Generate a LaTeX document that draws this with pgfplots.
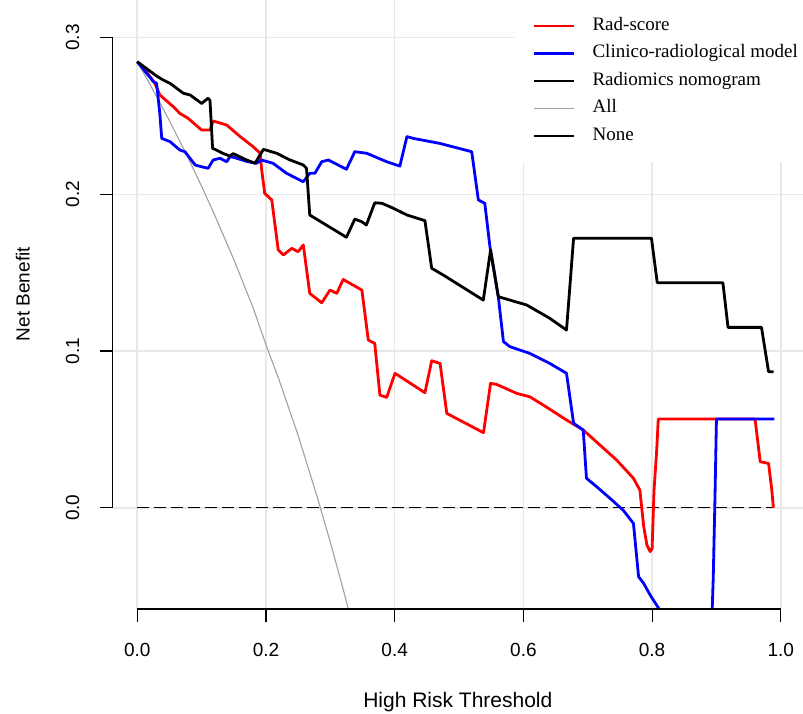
\documentclass[border=0pt]{standalone}
\usepackage{fontspec}
\setmainfont{Liberation Sans}
\newfontfamily\legfont{Liberation Serif}
\usepackage{pgfplots}
\pgfplotsset{compat=1.18}
\definecolor{gridc}{RGB}{232,232,232}
\definecolor{allc}{RGB}{160,160,160}
\begin{document}
\begin{tikzpicture}
\begin{axis}[
  at={(0,0)}, anchor=south west,
  scale only axis, width=690.3pt, height=609pt,
  xmin=-0.0382, xmax=1.0345, ymin=-0.0646, ymax=0.324,
  clip mode=individual,
  axis line style={draw=none},
  xtick={0,0.2,0.4,0.6,0.8,1}, ytick={0,0.1,0.2,0.3},
  xtick pos=lower, ytick pos=left,
  tick align=outside, major tick length=13pt,
  tick style={black, line width=1.2pt},
  grid=major, major grid style={gridc, line width=1.6pt},
  /pgf/number format/assume math mode=true,
  /pgf/number format/.cd, fixed, fixed zerofill, precision=1, /pgfplots/.cd,
  ticklabel style={font=\fontsize{19}{19}\selectfont},
  xticklabel style={anchor=center},
  xticklabel shift=28pt,
  yticklabel style={rotate=90, anchor=center},
  yticklabel shift=27pt,
  xlabel={High Risk Threshold}, ylabel={Net Benefit},
  every axis x label/.style={at={(axis description cs:0.5,-0.153)}, anchor=center, font=\fontsize{21}{21}\selectfont},
  every axis y label/.style={at={(axis description cs:-0.13,0.517)}, anchor=center, rotate=90, font=\fontsize{19}{19}\selectfont},
  legend image code/.code={\draw[#1] (0pt,0pt) -- (40pt,0pt);},
  legend style={at={(axis description cs:0.5813,1)}, anchor=north west, fill=white, draw=none,
    inner xsep=19pt, inner ysep=18pt, font=\legfont\fontsize{19}{22}\selectfont,
    row sep=11.5pt, column sep=17pt,
    nodes={inner sep=0pt, text height=12pt, text depth=4pt}},
  legend cell align=left,
]
\addlegendimage{red, line width=2pt}\addlegendentry{Rad-score}
\addlegendimage{blue, line width=2.4pt}\addlegendentry{Clinico-radiological model}
\addlegendimage{black, line width=2pt}\addlegendentry{Radiomics nomogram}
\addlegendimage{allc, line width=1.5pt}\addlegendentry{All}
\addlegendimage{black, line width=1.5pt}\addlegendentry{None}

% All
\addplot[forget plot, allc, line width=1.1pt] coordinates {
(0,0.2846) (0.02,0.270) (0.05,0.2470) (0.08,0.2224) (0.10,0.2051) (0.12,0.1870)
(0.15,0.1584) (0.18,0.1276) (0.20,0.1040) (0.22,0.0820) (0.25,0.0461) (0.28,0.0064)
(0.30,-0.0220) (0.32,-0.0521) (0.34,-0.0839)};
% None
\addplot[forget plot, black, line width=1.2pt, dash pattern=on 12pt off 5pt] coordinates {(0,0) (0.99,0)};
% Rad-score
\addplot[forget plot, red, line width=2.8pt, line join=round] coordinates {
(0,0.2846) (0.0146,0.278) (0.0275,0.2708) (0.035,0.2634) (0.056,0.2559) (0.066,0.2517)
(0.079,0.2485) (0.100,0.241) (0.113,0.241) (0.118,0.2468) (0.139,0.2442) (0.160,0.2368)
(0.180,0.2304) (0.191,0.2262) (0.193,0.2166) (0.198,0.2006) (0.209,0.1964) (0.219,0.1645)
(0.227,0.1613) (0.240,0.1655) (0.250,0.1634) (0.258,0.1677) (0.268,0.1368) (0.2866,0.1308)
(0.2995,0.1389) (0.310,0.1368) (0.320,0.1457) (0.349,0.1389) (0.359,0.107) (0.369,0.1049)
(0.377,0.0719) (0.3876,0.0704) (0.4005,0.0858) (0.447,0.0734) (0.4575,0.0938) (0.4705,0.0921)
(0.481,0.0602) (0.538,0.0479) (0.549,0.0794) (0.5585,0.0787) (0.5896,0.073) (0.610,0.0708)
(0.631,0.0655) (0.667,0.056) (0.693,0.0496) (0.719,0.040) (0.745,0.0304) (0.771,0.0188)
(0.781,0.0113) (0.787,-0.0121) (0.792,-0.0238) (0.797,-0.028) (0.800,-0.026) (0.803,0.0113)
(0.807,0.0357) (0.8096,0.0566) (0.960,0.0566) (0.968,0.0294) (0.981,0.0283) (0.986,0.0113)
(0.9885,0.0)};
% Clinico-radiological model
\addplot[forget plot, blue, line width=2.8pt, line join=round] coordinates {
(0,0.2846) (0.017,0.276) (0.025,0.2719) (0.030,0.2708) (0.035,0.2517) (0.038,0.2357)
(0.051,0.2336) (0.066,0.2283) (0.074,0.2272) (0.090,0.2187) (0.100,0.2176) (0.110,0.2166)
(0.118,0.2219) (0.1285,0.223) (0.139,0.2208) (0.144,0.224) (0.150,0.2236) (0.170,0.221)
(0.1855,0.2198) (0.193,0.2219) (0.211,0.2198) (0.232,0.2134) (0.258,0.208) (0.268,0.2134)
(0.276,0.2134) (0.2866,0.2208) (0.297,0.2219) (0.325,0.216) (0.338,0.2272) (0.3565,0.2262)
(0.3876,0.2208) (0.408,0.218) (0.419,0.2368) (0.429,0.2357) (0.470,0.2325) (0.5197,0.2272)
(0.530,0.1964) (0.540,0.1943) (0.548,0.1666) (0.561,0.1347) (0.569,0.106) (0.579,0.1028)
(0.610,0.0985) (0.641,0.0921) (0.667,0.0858) (0.678,0.0539) (0.693,0.0496) (0.698,0.0188)
(0.714,0.0134) (0.7346,0.006) (0.755,-0.0015) (0.771,-0.010) (0.779,-0.044) (0.787,-0.0483)
(0.797,-0.0557) (0.810,-0.064) (0.82,-0.08) (0.888,-0.08) (0.8935,-0.064) (0.895,-0.045)
(0.8977,0.006) (0.900,0.0566) (0.990,0.0566)};
% Radiomics nomogram
\addplot[forget plot, black, line width=2.8pt, line join=round] coordinates {
(0,0.2846) (0.030,0.2755) (0.040,0.273) (0.051,0.2708) (0.0715,0.2645) (0.082,0.2634)
(0.100,0.258) (0.110,0.2613) (0.113,0.260) (0.117,0.2294) (0.134,0.226) (0.144,0.2244)
(0.149,0.226) (0.170,0.2219) (0.183,0.2198) (0.196,0.2287) (0.2166,0.2262) (0.237,0.222)
(0.258,0.2187) (0.263,0.2166) (0.268,0.1868) (0.325,0.1726) (0.338,0.1842) (0.349,0.1825)
(0.356,0.1804) (0.369,0.1946) (0.380,0.1943) (0.398,0.1911) (0.419,0.1868) (0.447,0.1832)
(0.4575,0.1528) (0.4755,0.1485) (0.5377,0.1325) (0.549,0.1645) (0.561,0.1347) (0.579,0.1325)
(0.605,0.1294) (0.641,0.1209) (0.667,0.1134) (0.678,0.172) (0.799,0.172) (0.808,0.1436)
(0.910,0.1436) (0.918,0.1151) (0.970,0.1151) (0.981,0.0868) (0.989,0.0868)};
% R-style axis lines
\draw[black, line width=1.2pt] (axis cs:0,-0.0646) -- (axis cs:1,-0.0646);
\draw[black, line width=1.2pt] (axis cs:-0.0382,0) -- (axis cs:-0.0382,0.3);
\end{axis}
\pgfresetboundingbox
\useasboundingbox (-112.7pt,-104pt) rectangle (690.3pt,609pt);
\end{tikzpicture}
\end{document}
